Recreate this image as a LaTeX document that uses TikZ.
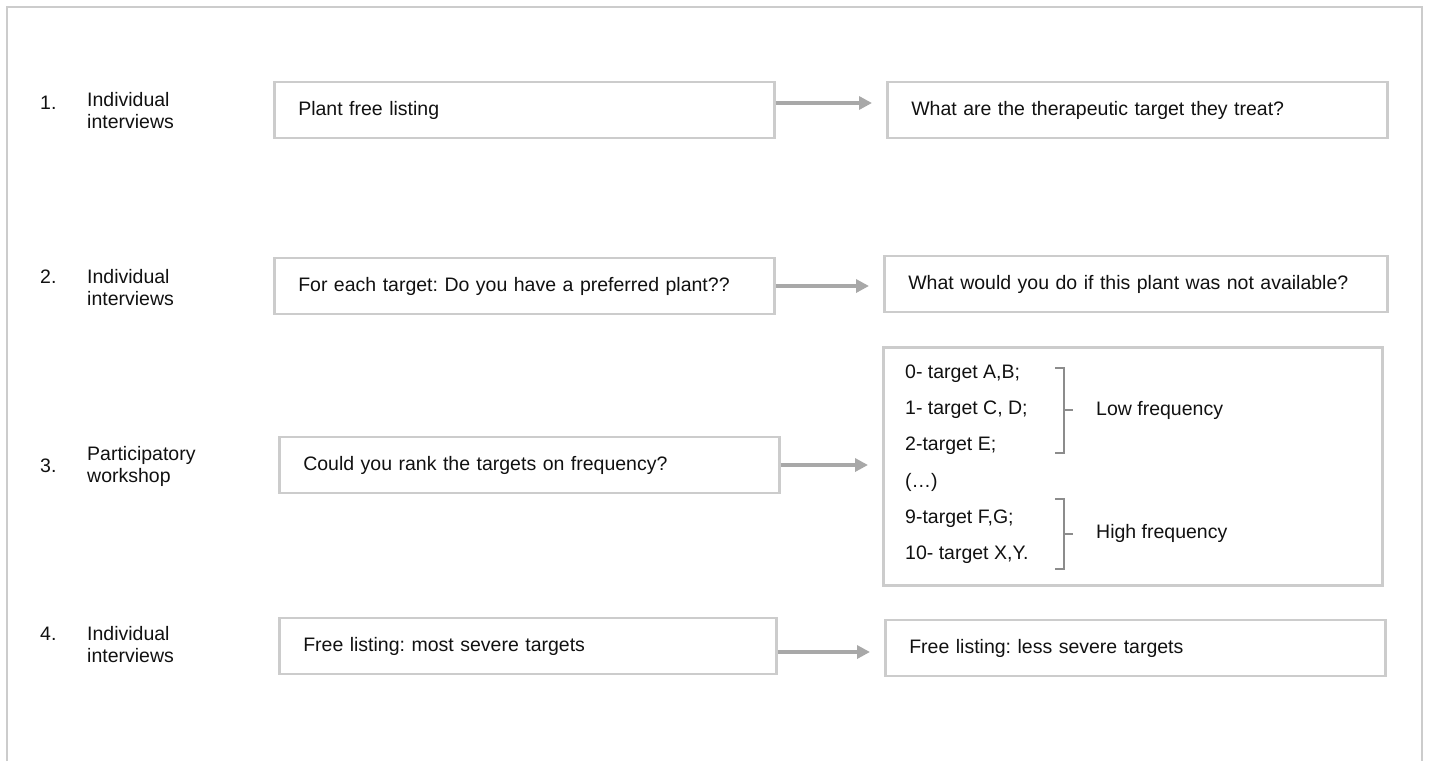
\documentclass[tikz,border=0pt]{standalone}
\usepackage{fontspec}
\setmainfont{Liberation Sans}
\usetikzlibrary{arrows.meta}
\definecolor{boxgray}{HTML}{CCCCCC}
\definecolor{arrgray}{HTML}{A8A8A8}
\definecolor{txt}{HTML}{111111}
\frenchspacing
\begin{document}
\begin{tikzpicture}[x=1pt,y=-1pt,
  every node/.style={font=\fontsize{19.5}{23}\selectfont, text=txt},
  stepbox/.style={draw=boxgray, line width=2.5pt, minimum width=#1, minimum height=56pt,
    inner xsep=24pt, inner ysep=0pt, text width=#1-48pt, align=left, anchor=west},
  lbl/.style={anchor=west, inner sep=0pt, align=left},
  conn/.style={draw=arrgray, line width=4pt, -{Triangle[length=13pt,width=13pt]}, shorten >=14pt},
  brace/.style={draw=gray!90, line width=1.5pt}]
\useasboundingbox (0,0) rectangle (1429,761);
% outer frame
\draw[boxgray, line width=2pt] (7,761) -- (7,7) -- (1422,7) -- (1422,761);

% left labels
\node[lbl] (n1) at (40,103) {1.};
\node[lbl] (l1) at (87,111) {Individual\\[-1pt]interviews};
\node[lbl] (n2) at (40,277) {2.};
\node[lbl] (l2) at (87,288) {Individual\\[-1pt]interviews};
\node[lbl] (n3) at (40,466) {3.};
\node[lbl] (l3) at (87,466) {Participatory\\[-1pt]workshop};
\node[lbl] (n4) at (40,634) {4.};
\node[lbl] (l4) at (87,645) {Individual\\[-1pt]interviews};

% boxes
\node[stepbox=500pt] (A) at (273,110) {Plant free listing};
\node[stepbox=500pt] (B) at (886,110) {What are the therapeutic target they treat?};
\node[stepbox=500pt] (C) at (273,286) {For each target: Do you have a preferred plant??};
\node[stepbox=503pt, inner xsep=23pt] (D) at (883,284) {What would you do if this plant was not available?};
\node[stepbox=500pt] (E) at (278,465) {Could you rank the targets on frequency?};
\node[draw=boxgray, line width=2.5pt, minimum width=499pt, minimum height=238pt, anchor=north west, inner sep=0pt] (F) at (882,346) {};
\node[stepbox=497pt] (G) at (278,646) {Free listing: most severe targets};
\node[stepbox=500pt] (H) at (884,648) {Free listing: less severe targets};

% list in F
\node[lbl] (f0) at (905,374) {0- target A,B;};
\node[lbl] (f1) at (905,410) {1- target C, D;};
\node[lbl] (f2) at (905,446) {2-target E;};
\node[lbl] (f3) at (905,482) {(\ldots)};
\node[lbl] (f4) at (905,519) {9-target F,G;};
\node[lbl] (f5) at (905,555) {10- target X,Y.};
\node[lbl] (low) at (1096,410) {Low frequency};
\node[lbl] (high) at (1096,533) {High frequency};

% braces
\draw[brace] (1055,368) -- (1064,368) -- (1064,453) -- (1055,453);
\draw[brace] (1064,410) -- (1073,410);
\draw[brace] (1055,499) -- (1064,499) -- (1064,569) -- (1055,569);
\draw[brace] (1064,534) -- (1073,534);

% connectors
\draw[conn] ([yshift=7pt]A.east) -- ([yshift=7pt]B.west);
\draw[conn] (C.east) -- (D.west |- C.east);
\draw[conn] (E.east) -- (F.west |- E.east);
\draw[conn] ([yshift=-6pt]G.east) -- ([yshift=-4pt]H.west);
\end{tikzpicture}
\end{document}
